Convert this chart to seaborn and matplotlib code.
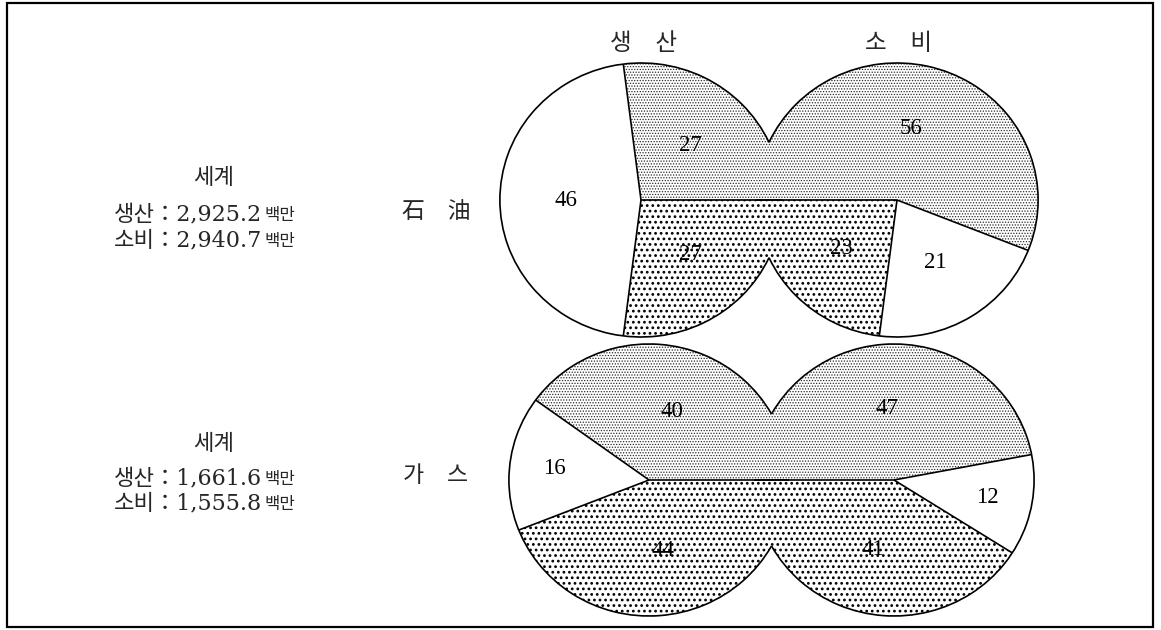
import numpy as np
import matplotlib.pyplot as plt
from matplotlib.patches import Arc, Rectangle
import seaborn as sns

sns.set_theme(style="white")
plt.rcParams["font.family"] = ["Noto Sans CJK KR", "DejaVu Sans"]
plt.rcParams["hatch.linewidth"] = 0.9

# shares in % : order in every pie = light dots, white, dense dots
fuels = ["石　油", "가　스"]
production = [[27, 46, 27], [40, 16, 44]]
consumption = [[56, 21, 23], [47, 12, 41]]
world_production = ["2,925.2", "1,661.6"]
world_consumption = ["2,940.7", "1,555.8"]
column_titles = ["생　산", "소　비"]

# layout in image pixels (y from top); the scan is a bit wider than tall
W, H = 1161, 630
SX = 1.03
rows_y = [200, 480]
left_x = [641, 649]
right_x = [897, 894]
radius = [137, 136]

hatches = ["......", "", "..."]
hatch_colors = ["#2a2a2a", "black", "black"]
hatch_lws = [0.6, 0.9, 1.2]


def px(x, y):
    return x / SX, H - y


fig = plt.figure(figsize=(W / 100, H / 100), dpi=100)
ax = fig.add_axes([0, 0, 1, 1])


def draw_pie(values, centre, r, start, ccw):
    wedges, _ = ax.pie(values, colors=["white"] * 3, hatch=hatches,
                       startangle=start, counterclock=ccw, radius=r,
                       center=centre, frame=True,
                       wedgeprops=dict(linewidth=0))
    bounds = set()
    for w, c, hl, v in zip(wedges, hatch_colors, hatch_lws, values):
        w.set_edgecolor(c)
        w.set_linewidth(0)
        if hasattr(w, "set_hatch_linewidth"):
            w.set_hatch_linewidth(hl)
        elif hasattr(w, "_hatch_linewidth"):
            w._hatch_linewidth = hl
        bounds.add(round(w.theta1 % 360, 3))
        bounds.add(round(w.theta2 % 360, 3))
        mid = np.deg2rad((w.theta1 + w.theta2) / 2)
        d = 0.68 if v < 20 else 0.53
        ax.text(centre[0] + d * r * np.cos(mid), centre[1] + d * r * np.sin(mid),
                str(v), ha="center", va="center", fontsize=16.5,
                family=["Liberation Serif"], color="black", zorder=6)
    for b in bounds:
        t = np.deg2rad(b)
        ax.plot([centre[0], centre[0] + r * np.cos(t)],
                [centre[1], centre[1] + r * np.sin(t)],
                color="black", lw=1.2, zorder=4, solid_capstyle="butt")


for i in range(2):
    cl = px(left_x[i], rows_y[i])
    cr = px(right_x[i], rows_y[i])
    r = radius[i]
    draw_pie(production[i], cl, r, 0, True)
    draw_pie(consumption[i], cr, r, 180, False)
    # outline of the union of both circles
    alpha = np.degrees(np.arccos((cr[0] - cl[0]) / 2 / r))
    ax.add_patch(Arc(cl, 2 * r, 2 * r, theta1=alpha, theta2=360 - alpha,
                     color="black", lw=1.2, zorder=5))
    ax.add_patch(Arc(cr, 2 * r, 2 * r, theta1=180 + alpha, theta2=180 - alpha,
                     color="black", lw=1.2, zorder=5))

# column titles
for title, x in zip(column_titles, [left_x[0] + 3, right_x[0] + 2]):
    ax.text(*px(x, 43), title, ha="center", va="center", fontsize=17)

# fuel names and world totals
fuel_y = [212, 475]
title_y = [177, 443]
prod_base = [220, 484]
cons_base = [246, 509]
serif_cjk = ["DejaVu Serif", "Noto Sans CJK KR"]
for i in range(2):
    ax.text(*px(436, fuel_y[i]), fuels[i], ha="center", va="center", fontsize=16.5)
    ax.text(*px(214, title_y[i]), "세계", ha="center", va="center", fontsize=16)
    for label, val, yb in [("생산", world_production[i], prod_base[i]),
                           ("소비", world_consumption[i], cons_base[i])]:
        ax.text(*px(262, yb), f"{label}：{val}", ha="right", va="baseline",
                fontsize=16, family=serif_cjk)
        ax.text(*px(264, yb), "백만", ha="left", va="baseline", fontsize=12)

# frame
x0, y0 = px(7, 627)
x1, y1 = px(1153, 3)
ax.add_patch(Rectangle((x0, y0), x1 - x0, y1 - y0, fill=False,
                       edgecolor="black", lw=1.6, zorder=7))

ax.set_xlim(0, W / SX)
ax.set_ylim(0, H)
ax.set_aspect("auto")
ax.axis("off")

fig.savefig("out.png", dpi=100)
